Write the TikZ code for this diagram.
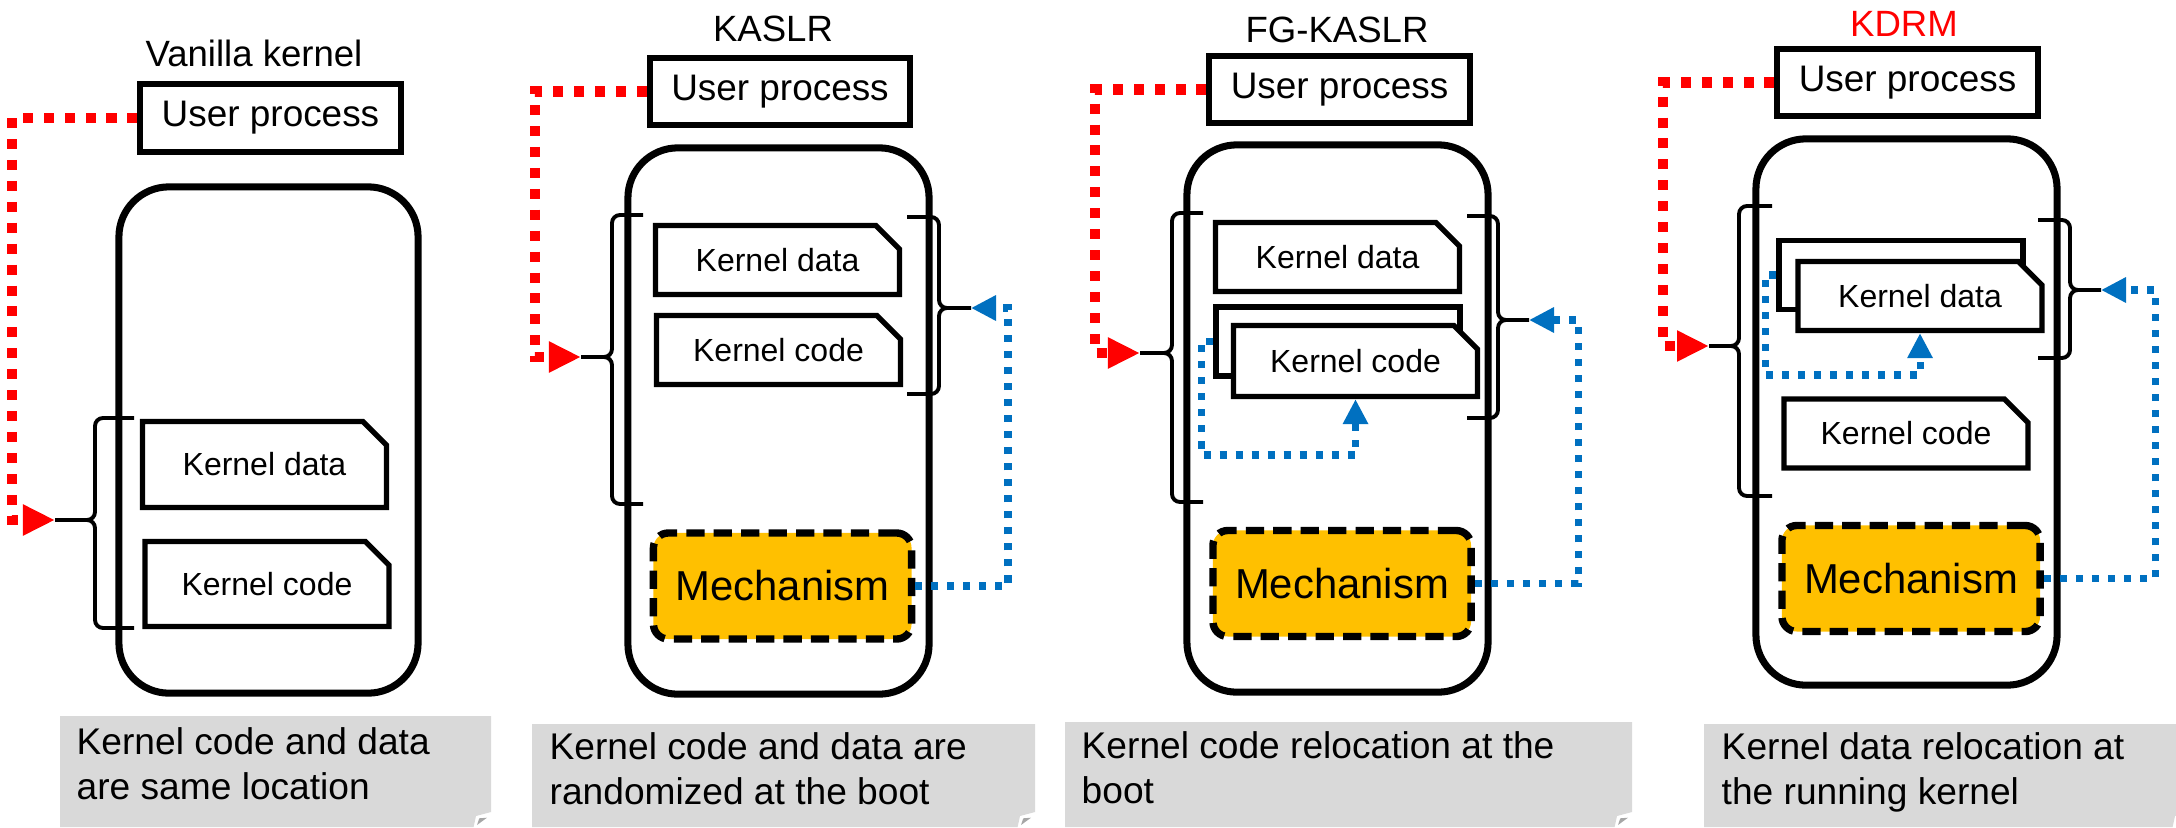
\documentclass[tikz,border=0pt]{standalone}
\usepackage{fontspec}
\setmainfont{Liberation Sans}
\usetikzlibrary{arrows.meta,shapes.misc}

\definecolor{mechorange}{HTML}{FFC000}
\definecolor{linkblue}{HTML}{0070C0}
\definecolor{notegray}{HTML}{D9D9D9}
\definecolor{foldgray}{HTML}{A6A6A6}

\newcommand{\BraceL}[7]{%
  \coordinate (#1) at (#4,#6);
  \draw[bracepen] (#2,#5) -- (#3+8,#5) to[out=180,in=90] (#3,#5+8) -- (#3,#6-8) to[out=-90,in=0] (#3-8,#6) -- (#1)
    (#3-8,#6) to[out=0,in=90] (#3,#6+8) -- (#3,#7-8) to[out=-90,in=180] (#3+8,#7) -- (#2,#7);
}
\newcommand{\BraceR}[7]{%
  \coordinate (#1) at (#4,#6);
  \draw[bracepen] (#2,#5) -- (#3-8,#5) to[out=0,in=90] (#3,#5+8) -- (#3,#6-8) to[out=-90,in=180] (#3+8,#6) -- (#1)
    (#3+8,#6) to[out=180,in=90] (#3,#6+8) -- (#3,#7-8) to[out=-90,in=0] (#3-8,#7) -- (#2,#7);
}
\newcommand{\NoteBox}[3]{%
  \fill[notegray] (#1,#2) -- (#3,#2) -- (#3,812) -- (#3-15,816) -- (#3-17.4,827) -- (#1,827) -- cycle;
  \fill[foldgray] (#3-14,825) -- (#3-11.7,818.3) -- (#3-4,817.7) -- cycle;
}

\begin{document}
\begin{tikzpicture}[x=0.01cm,y=-0.01cm]

\tikzset{
  paneltitle/.style = {anchor=base, inner sep=0pt, font=\fontsize{10.4}{12}\selectfont},
  userbox/.style    = {draw, line width=1.7pt, minimum width=2.6cm, minimum height=0.67cm,
                       inner sep=0pt, font=\fontsize{10.5}{12}\selectfont},
  kernbox/.style    = {draw, line width=2pt, rounded corners=0.5cm},
  kbox/.style       = {chamfered rectangle, chamfered rectangle corners=north east,
                       chamfered rectangle xsep=0.14cm, chamfered rectangle ysep=0.12cm,
                       draw, fill=white, line width=1.5pt, inner sep=0pt,
                       minimum width=2.44cm, minimum height=0.69cm, font=\fontsize{9.1}{11}\selectfont},
  mechbox/.style    = {draw, fill=mechorange, line width=2.1pt, dash pattern=on 5.2pt off 2.6pt,
                       rounded corners=0.15cm, minimum width=2.58cm, minimum height=1.06cm,
                       font=\fontsize{11.9}{14}\selectfont},
  bracepen/.style   = {line width=1.1pt},
  redlink/.style    = {red, line width=2.85pt, dash pattern=on 2.85pt off 3.1pt,
                       -{Triangle[length=0.32cm,width=0.29cm]}},
  bluelink/.style   = {linkblue, line width=2pt, dash pattern=on 2pt off 2.56pt,
                       -{Triangle[length=0.25cm,width=0.24cm]}},
  notetext/.style   = {anchor=north west, inner sep=0pt, align=left,
                       font=\fontsize{10.56}{12.8}\selectfont}
}

\useasboundingbox (0,0) rectangle (2176,827);

\NoteBox{60}{716}{491}
\NoteBox{532}{724}{1035}
\NoteBox{1065}{722}{1632}
\NoteBox{1704}{724}{2190}

\node (cap1) [notetext] at (76,727) {Kernel code and data\\are same location};
\node (cap2) [notetext] at (549,732) {Kernel code and data are\\randomized at the boot};
\node (cap3) [notetext] at (1081,731) {Kernel code relocation at the\\boot};
\node (cap4) [notetext] at (1721,732) {Kernel data relocation at\\the running kernel};

\node (ti1) [paneltitle] at (254,66) {Vanilla kernel};
\node (ti2) [paneltitle] at (773,41) {KASLR};
\node (ti3) [paneltitle] at (1337,42) {FG-KASLR};
\node (ti4) [paneltitle, red] at (1904,36) {KDRM};

\node (kern1) [kernbox, minimum width=2.99cm, minimum height=5.06cm] at (268.5,440) {};
\node (kern2) [kernbox, minimum width=3.01cm, minimum height=5.46cm] at (778.5,421) {};
\node (kern3) [kernbox, minimum width=3.01cm, minimum height=5.47cm] at (1337.5,418.5) {};
\node (kern4) [kernbox, minimum width=3.01cm, minimum height=5.46cm] at (1906.5,412) {};

\node (up1) [userbox] at (270.5,118) {User process};
\node (up2) [userbox] at (780,91.5) {User process};
\node (up3) [userbox] at (1339.5,89.5) {User process};
\node (up4) [userbox] at (1907.5,82.5) {User process};

\node (kd1) [kbox, minimum height=0.86cm] at (264.5,464.5) {Kernel data};
\node (kc1) [kbox, minimum height=0.85cm] at (267,584) {Kernel code};

\node (kd2) [kbox] at (777.5,260) {Kernel data};
\node (kc2) [kbox] at (778.5,350) {Kernel code};
\node (mech2) [mechbox] at (782.5,586) {Mechanism};

\node (kd3) [kbox] at (1337.5,257) {Kernel data};
\node (kc3b) [kbox] at (1338,341.5) {};
\node (kc3) [kbox, minimum height=0.71cm] at (1355.5,361) {Kernel code};
\node (mech3) [mechbox] at (1342,583.5) {Mechanism};

\node (kd4b) [kbox] at (1901,275) {};
\node (kd4) [kbox] at (1920,296) {Kernel data};
\node (kc4) [kbox] at (1906,433.5) {Kernel code};
\node (mech4) [mechbox] at (1911,578.5) {Mechanism};

\BraceL{bl1}{134}{95}{55}{418}{520}{628}
\BraceL{bl2}{643}{612}{581}{215}{357}{504}
\BraceR{br2}{907}{939}{971}{217}{308}{394}
\BraceL{bl3}{1203}{1172}{1140}{213}{353}{502}
\BraceR{br3}{1467}{1498}{1529}{216}{320}{418}
\BraceL{bl4}{1772}{1739}{1709}{206}{346}{496}
\BraceR{br4}{2038}{2070}{2101}{220}{290}{358}

\coordinate (rt1) at (12,520);
\coordinate (rt2) at (535,357);
\coordinate (rt3) at (1095,353);
\coordinate (rt4) at (1663,346);
\coordinate (bt2) at (1008,308);
\coordinate (bt3) at (1578,320);
\coordinate (bt4) at (2155,290);
\coordinate (st3) at (1201,455);
\coordinate (st4) at (1765,375);

\draw[redlink] (up1.west) -| (rt1) -- (bl1);
\draw[redlink] (up2.west) -| (rt2) -- (bl2);
\draw[redlink] (up3.west) -| (rt3) -- (bl3);
\draw[redlink] (up4.west) -| (rt4) -- (bl4);

\draw[bluelink] (mech2.east) -| (bt2) -- (br2);
\draw[bluelink] (mech3.east) -| (bt3) -- (br3);
\draw[bluelink] (mech4.east) -| (bt4) -- (br4);

\draw[bluelink] (kc3b.west) -| (st3) -| (kc3.south);
\draw[bluelink] (kd4b.west) -| (st4) -| (kd4.south);

\end{tikzpicture}
\end{document}
